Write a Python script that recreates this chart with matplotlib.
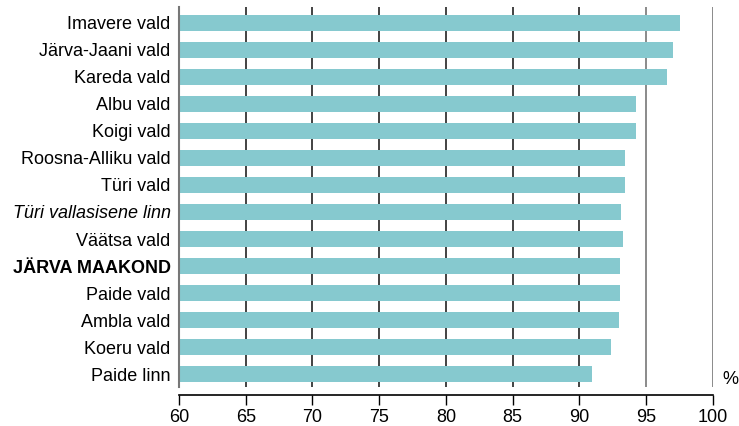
import matplotlib
matplotlib.use('Agg')
import matplotlib.pyplot as plt
import numpy as np

plt.rcParams['font.family'] = ['Liberation Sans', 'DejaVu Sans']

# andmed ülevalt alla
nimed = ['Imavere vald', 'Järva-Jaani vald', 'Kareda vald', 'Albu vald', 'Koigi vald',
         'Roosna-Alliku vald', 'Türi vald', 'Türi vallasisene linn', 'Väätsa vald',
         'JÄRVA MAAKOND', 'Paide vald', 'Ambla vald', 'Koeru vald', 'Paide linn']
vaartused = [97.55, 97.03, 96.58, 94.25, 94.25, 93.43, 93.43, 93.13, 93.28,
             93.05, 93.05, 92.98, 92.38, 90.95]
xticks = [60, 65, 70, 75, 80, 85, 90, 95, 100]

fig = plt.figure(figsize=(7.39, 4.26), dpi=100)
ax = fig.add_axes([0.2422, 0.0915, 0.7222, 0.8921])

y = np.arange(len(nimed))
ax.barh(y, np.array(vaartused) - 60, left=60, height=0.59, color='#86C9CF', zorder=2)

# ruudustik
for t in xticks[1:]:
    c = '#222222' if t <= 90 else '#777777'
    ax.axvline(t, color=c, lw=1.2, zorder=1)

ax.set_xlim(60, 100)
ax.set_ylim(13.48, -0.59)
ax.set_xticks(xticks)
ax.set_yticks(y)
ax.tick_params(axis='y', length=0, pad=6, labelsize=13)
ax.tick_params(axis='x', direction='out', length=7, width=1, pad=3, labelsize=13)
ax.set_xticklabels([str(t) for t in xticks])
ax.set_yticklabels(nimed)

for lbl in ax.get_yticklabels():
    if lbl.get_text() == 'Türi vallasisene linn':
        lbl.set_style('italic')
    if lbl.get_text() == 'JÄRVA MAAKOND':
        lbl.set_weight('bold')

ax.spines['top'].set_visible(False)
ax.spines['right'].set_visible(False)
ax.spines['left'].set_color('#777777')
ax.spines['left'].set_linewidth(1.5)
ax.spines['bottom'].set_position(('outward', 6))
ax.spines['bottom'].set_linewidth(1.2)

fig.text(722 / 739, 1 - 380 / 426, '%', fontsize=13, va='center', ha='left')

fig.savefig('out.png', dpi=100)
